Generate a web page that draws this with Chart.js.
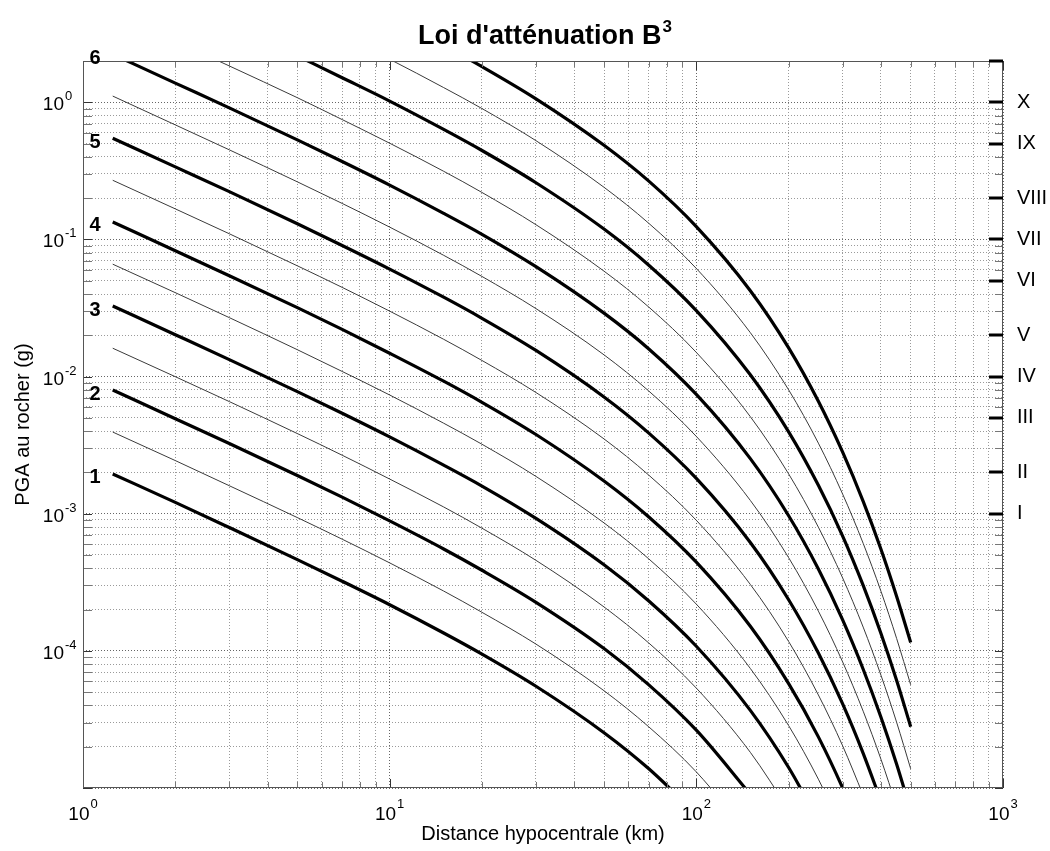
<!DOCTYPE html>
<html lang="fr">
<head>
  <meta charset="UTF-8">
  <title>Loi d'atténuation B3</title>
  <script src="https://cdn.jsdelivr.net/npm/chart.js"></script>
  <style>
    body { margin: 0; background: #fff; }
    canvas { display: block; }
  </style>
</head>
<body>
  <canvas id="b3Chart" width="1050" height="851"></canvas>

  <script>
    // hypocentral distances (km) where the curves are sampled
    var distKm = [1.25, 2, 3, 5, 7, 10, 15, 20, 30, 50, 70, 100, 150, 200, 250, 300, 350, 400, 450, 500];

    // PGA on rock (g) for each magnitude, null where the curve is off the plot
    var pgaM10 = [1.95e-3, 1.21e-3, 7.93e-4, 4.63e-4, 3.22e-4, 2.17e-4, 1.35e-4, 9.47e-5, 5.52e-5, 2.53e-5, 1.38e-5, 6.46e-6, null, null, null, null, null, null, null, null];
    var pgaM15 = [3.94e-3, 2.44e-3, 1.60e-3, 9.37e-4, 6.52e-4, 4.38e-4, 2.73e-4, 1.91e-4, 1.12e-4, 5.12e-5, 2.79e-5, 1.31e-5, 4.44e-6, null, null, null, null, null, null, null];
    var pgaM20 = [7.98e-3, 4.93e-3, 3.25e-3, 1.90e-3, 1.32e-3, 8.86e-4, 5.53e-4, 3.87e-4, 2.26e-4, 1.04e-4, 5.65e-5, 2.64e-5, 8.99e-6, null, null, null, null, null, null, null];
    var pgaM25 = [1.61e-2, 9.98e-3, 6.57e-3, 3.84e-3, 2.67e-3, 1.79e-3, 1.12e-3, 7.84e-4, 4.57e-4, 2.09e-4, 1.14e-4, 5.35e-5, 1.82e-5, 6.97e-6, null, null, null, null, null, null];
    var pgaM30 = [3.27e-2, 2.02e-2, 1.33e-2, 7.76e-3, 5.40e-3, 3.63e-3, 2.26e-3, 1.59e-3, 9.24e-4, 4.24e-4, 2.31e-4, 1.08e-4, 3.68e-5, 1.41e-5, 5.76e-6, null, null, null, null, null];
    var pgaM35 = [6.60e-2, 4.09e-2, 2.69e-2, 1.57e-2, 1.09e-2, 7.34e-3, 4.57e-3, 3.21e-3, 1.87e-3, 8.57e-4, 4.68e-4, 2.19e-4, 7.44e-5, 2.85e-5, 1.16e-5, 4.95e-6, null, null, null, null];
    var pgaM40 = [1.34e-1, 8.27e-2, 5.44e-2, 3.18e-2, 2.21e-2, 1.48e-2, 9.25e-3, 6.49e-3, 3.78e-3, 1.73e-3, 9.46e-4, 4.43e-4, 1.51e-4, 5.77e-5, 2.36e-5, 1.00e-5, 4.39e-6, null, null, null];
    var pgaM45 = [2.70e-1, 1.67e-1, 1.10e-1, 6.42e-2, 4.47e-2, 3.00e-2, 1.87e-2, 1.31e-2, 7.65e-3, 3.51e-3, 1.91e-3, 8.95e-4, 3.05e-4, 1.17e-4, 4.77e-5, 2.03e-5, 8.87e-6, null, null, null];
    var pgaM50 = [5.47e-1, 3.38e-1, 2.23e-1, 1.30e-1, 9.04e-2, 6.08e-2, 3.79e-2, 2.66e-2, 1.55e-2, 7.10e-3, 3.87e-3, 1.81e-3, 6.17e-4, 2.36e-4, 9.64e-5, 4.10e-5, 1.79e-5, 8.01e-6, null, null];
    var pgaM55 = [1.11, 6.84e-1, 4.50e-1, 2.63e-1, 1.83e-1, 1.23e-1, 7.66e-2, 5.37e-2, 3.13e-2, 1.44e-2, 7.84e-3, 3.66e-3, 1.25e-3, 4.78e-4, 1.95e-4, 8.30e-5, 3.63e-5, 1.62e-5, 7.36e-6, null];
    var pgaM60 = [2.24, 1.38, 9.11e-1, 5.32e-1, 3.70e-1, 2.49e-1, 1.55e-1, 1.09e-1, 6.33e-2, 2.90e-2, 1.59e-2, 7.41e-3, 2.52e-3, 9.66e-4, 3.95e-4, 1.68e-4, 7.34e-5, 3.28e-5, 1.49e-5, 6.84e-6];
    var pgaM65 = [null, 2.80, 1.84, 1.08, 7.48e-1, 5.03e-1, 3.14e-1, 2.20e-1, 1.28e-1, 5.87e-2, 3.21e-2, 1.50e-2, 5.10e-3, 1.95e-3, 7.98e-4, 3.40e-4, 1.49e-4, 6.64e-5, 3.01e-5, 1.38e-5];
    var pgaM70 = [null, null, null, 2.18, 1.51, 1.02, 6.34e-1, 4.45e-1, 2.59e-1, 1.19e-1, 6.49e-2, 3.03e-2, 1.03e-2, 3.95e-3, 1.61e-3, 6.87e-4, 3.00e-4, 1.34e-4, 6.09e-5, 2.80e-5];
    var pgaM75 = [null, null, null, null, 3.06, 2.06, 1.28, 9.00e-1, 5.25e-1, 2.40e-1, 1.31e-1, 6.14e-2, 2.09e-2, 8.00e-3, 3.27e-3, 1.39e-3, 6.08e-4, 2.72e-4, 1.23e-4, 5.66e-5];
    var pgaM80 = [null, null, null, null, null, 4.17, 2.60, 1.82, 1.06, 4.86e-1, 2.66e-1, 1.24e-1, 4.23e-2, 1.62e-2, 6.61e-3, 2.81e-3, 1.23e-3, 5.50e-4, 2.49e-4, 1.15e-4];

    var magnitudes = [1, 1.5, 2, 2.5, 3, 3.5, 4, 4.5, 5, 5.5, 6, 6.5, 7, 7.5, 8];
    var pgaSeries = [pgaM10, pgaM15, pgaM20, pgaM25, pgaM30, pgaM35, pgaM40, pgaM45,
                     pgaM50, pgaM55, pgaM60, pgaM65, pgaM70, pgaM75, pgaM80];

    // magnitudes written next to the start of their curve
    var labelledMags = [1, 2, 3, 4, 5, 6];

    // intensity scale on the right-hand side
    var romanLabels = ['I', 'II', 'III', 'IV', 'V', 'VI', 'VII', 'VIII', 'IX', 'X'];
    var romanPga = [0.001, 0.002, 0.005, 0.01, 0.02, 0.05, 0.1, 0.2, 0.5, 1];

    // axis ranges and decade labels
    var xMin = 1, xMax = 1000;
    var yMin = 1e-5, yMax = 2;
    var xLabelExp = [0, 1, 2, 3];
    var yLabelExp = [0, -1, -2, -3, -4];
    var gridSteps = [1, 2, 3, 4, 5, 6, 7, 8, 9];

    var FONT = '"Liberation Sans", Arial, Helvetica, sans-serif';
    Chart.defaults.font.family = FONT;

    function logGrid(min, max) {
      var out = [];
      for (var e = Math.floor(Math.log10(min)); e <= Math.ceil(Math.log10(max)); e++) {
        gridSteps.forEach(function (s) {
          var v = s * Math.pow(10, e);
          if (v >= min * 0.999 && v <= max * 1.001) out.push(v);
        });
      }
      return out;
    }
    var xGrid = logGrid(xMin, xMax);
    var yGrid = logGrid(yMin, yMax);

    function isDecade(v) {
      var l = Math.log10(v);
      return Math.abs(l - Math.round(l)) < 1e-6;
    }

    function gridColor(c) {
      return c.tick && isDecade(c.tick.value) ? '#666' : '#9a9a9a';
    }

    var datasets = magnitudes.map(function (m, i) {
      var whole = m % 1 === 0;
      var pts = [];
      distKm.forEach(function (d, j) {
        var v = pgaSeries[i][j];
        if (v !== null) pts.push({ x: d, y: v });
      });
      return {
        label: 'M' + m,
        data: pts,
        borderColor: whole ? '#000' : '#3a3a3a',
        borderWidth: whole ? 3.2 : 1,
        pointRadius: 0,
        fill: false,
        cubicInterpolationMode: 'monotone'
      };
    });

    // "10" with a raised exponent
    function drawPow(c, exp, mode, x, y) {
      var base = '10', sup = String(exp);
      c.font = '19px ' + FONT;
      var wb = c.measureText(base).width;
      c.font = '13px ' + FONT;
      var ws = c.measureText(sup).width;
      var bx, baseY, supY;
      if (mode === 'y') {
        bx = x - wb;
        baseY = y + 8;
        supY = y - 2;
      } else {
        bx = x - (wb + 1 + ws) / 2;
        baseY = y;
        supY = y - 12;
      }
      c.textAlign = 'left';
      c.textBaseline = 'alphabetic';
      c.font = '19px ' + FONT;
      c.fillText(base, bx, baseY);
      c.font = '13px ' + FONT;
      c.fillText(sup, bx + wb + 1, supY);
    }

    function seg(c, x1, y1, x2, y2) {
      c.beginPath();
      c.moveTo(x1, y1);
      c.lineTo(x2, y2);
      c.stroke();
    }

    // frame, inward ticks, tick labels, curve labels and title
    var axesDeco = {
      id: 'axesDeco',
      afterDraw: function (chart) {
        var c = chart.ctx, a = chart.chartArea;
        var sx = chart.scales.x, sy = chart.scales.y;
        var L = Math.round(a.left), R = Math.round(a.right);
        var T = Math.round(a.top), B = Math.round(a.bottom);
        c.save();

        c.lineWidth = 1;
        yGrid.forEach(function (v) {
          var p = Math.round(sy.getPixelForValue(v)) + 0.5;
          c.strokeStyle = isDecade(v) ? '#333' : '#777';
          seg(c, L, p, L + 9, p);
          seg(c, R, p, R - 8, p);
        });
        xGrid.forEach(function (v) {
          var p = Math.round(sx.getPixelForValue(v)) + 0.5;
          var len = isDecade(v) ? 9 : 6;
          c.strokeStyle = isDecade(v) ? '#333' : '#777';
          seg(c, p, B, p, B - len);
          seg(c, p, T, p, T + len);
        });

        c.strokeStyle = '#555';
        c.strokeRect(L + 0.5, T + 0.5, R - L - 1, B - T - 1);

        // intensity ticks
        c.strokeStyle = '#000';
        c.lineWidth = 3;
        romanPga.concat([yMax]).forEach(function (v) {
          var p = Math.round(sy.getPixelForValue(v));
          seg(c, R - 14, p, R, p);
        });

        c.fillStyle = '#000';
        yLabelExp.forEach(function (e) {
          drawPow(c, e, 'y', 64, sy.getPixelForValue(Math.pow(10, e)));
        });
        xLabelExp.forEach(function (e) {
          drawPow(c, e, 'x', sx.getPixelForValue(Math.pow(10, e)), 820);
        });

        // magnitude numbers at the start of the thick curves
        c.font = 'bold 20px ' + FONT;
        c.textAlign = 'right';
        c.textBaseline = 'alphabetic';
        labelledMags.forEach(function (m) {
          var pt = chart.data.datasets[magnitudes.indexOf(m)].data[0];
          c.fillText(String(m), sx.getPixelForValue(pt.x) - 12, sy.getPixelForValue(pt.y) + 9.5);
        });

        // title with superscript
        var t = "Loi d'atténuation B", s = '3';
        c.font = 'bold 27px ' + FONT;
        var wt = c.measureText(t).width;
        c.font = 'bold 17px ' + FONT;
        var ws = c.measureText(s).width;
        var tx = (a.left + a.right) / 2 + 2 - (wt + ws + 1) / 2;
        c.textAlign = 'left';
        c.font = 'bold 27px ' + FONT;
        c.fillText(t, tx, 44);
        c.font = 'bold 17px ' + FONT;
        c.fillText(s, tx + wt + 1, 32);

        c.restore();
      }
    };

    var ctx = document.getElementById('b3Chart').getContext('2d');
    var b3Chart = new Chart(ctx, {
      type: 'line',
      data: { datasets: datasets },
      options: {
        responsive: false,
        animation: false,
        devicePixelRatio: 1,
        layout: { padding: { top: 61, left: 0, right: 0, bottom: 0 } },
        plugins: {
          legend: { display: false },
          tooltip: { enabled: false },
          title: { display: false }
        },
        scales: {
          x: {
            type: 'logarithmic',
            position: 'bottom',
            min: xMin,
            max: xMax,
            afterBuildTicks: function (s) { s.ticks = xGrid.map(function (v) { return { value: v }; }); },
            afterFit: function (s) { s.height = 63; },
            ticks: { display: false },
            grid: { color: gridColor, lineWidth: 1, drawTicks: false },
            border: { display: false, dash: [1, 2] },
            title: {
              display: true,
              text: 'Distance hypocentrale (km)',
              color: '#000',
              font: { size: 20 },
              padding: { top: 0, bottom: 5 }
            }
          },
          y: {
            type: 'logarithmic',
            position: 'left',
            min: yMin,
            max: yMax,
            afterBuildTicks: function (s) { s.ticks = yGrid.map(function (v) { return { value: v }; }); },
            afterFit: function (s) { s.width = 83; },
            ticks: { display: false },
            grid: { color: gridColor, lineWidth: 1, drawTicks: false },
            border: { display: false, dash: [1, 2] },
            title: {
              display: true,
              text: 'PGA au rocher (g)',
              color: '#000',
              font: { size: 20 },
              padding: { top: 11, bottom: 0 }
            }
          },
          y2: {
            type: 'logarithmic',
            position: 'right',
            min: yMin,
            max: yMax,
            afterBuildTicks: function (s) { s.ticks = romanPga.map(function (v) { return { value: v }; }); },
            afterFit: function (s) { s.width = 47; },
            ticks: {
              autoSkip: false,
              padding: 14,
              color: '#000',
              font: { size: 20 },
              callback: function (v) { return romanLabels[romanPga.indexOf(v)]; }
            },
            grid: { display: false, drawTicks: false, tickLength: 0 },
            border: { display: false }
          }
        }
      },
      plugins: [axesDeco]
    });
  </script>
</body>
</html>
